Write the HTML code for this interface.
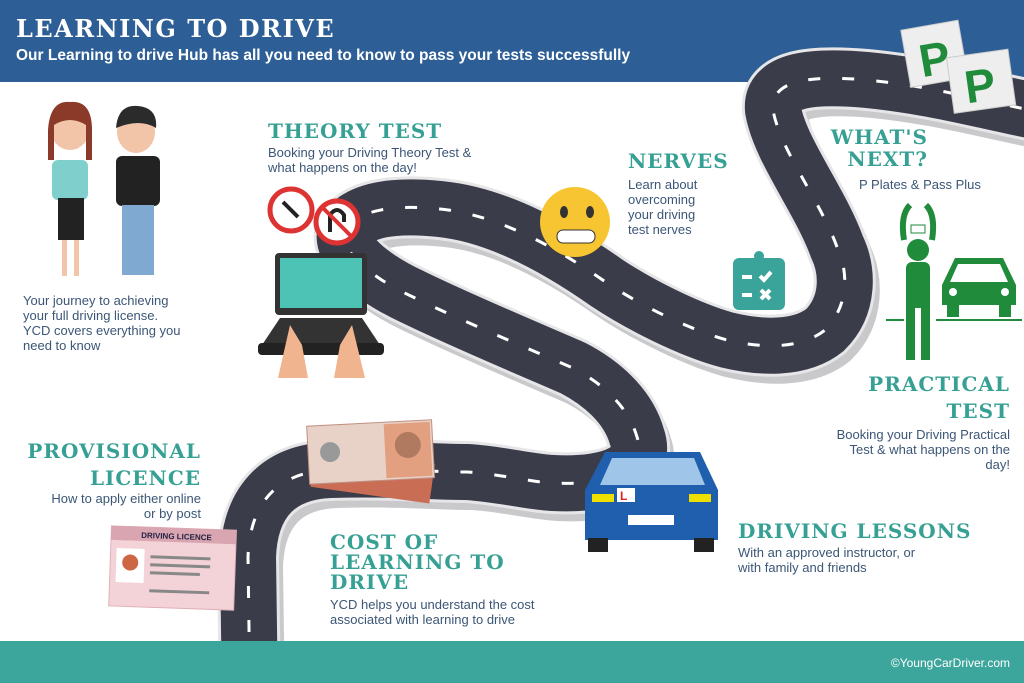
<!DOCTYPE html>
<html><head><meta charset="utf-8">
<style>
body{margin:0;width:1024px;height:683px;overflow:hidden;background:#fff;font-family:"Liberation Sans",sans-serif;position:relative}
.hdr{position:absolute;left:0;top:0;width:1024px;height:82px;background:#2d5f96}
.ftr{position:absolute;left:0;top:641px;width:1024px;height:42px;background:#3ca59c}
.t{position:absolute;color:#3b5676;font-size:13px;line-height:15px}
.h{position:absolute;color:#35a093;font-weight:bold;font-size:20px;letter-spacing:1px;line-height:22px;font-family:"DejaVu Serif","Liberation Serif",serif}
svg{position:absolute;left:0;top:0}
</style></head><body>
<div class="hdr"></div>
<svg width="1024" height="683">
<defs><path id="r" d="M250 700 L248 557 C250 500 280 472 330 470 C390 468 430 472 467 472 C500 474 530 482 553 483 C615 486 648 468 637 437 C628 405 600 382 573 368 C520 345 460 320 413 297 C365 275 325 240 355 220 C375 206 410 206 440 209 C500 215 560 250 607 283 C640 305 690 330 727 340 C760 348 800 350 825 330 C850 305 848 270 837 247 C820 200 780 150 773 110 C770 80 810 75 867 80 C930 86 980 100 1030 110"/></defs>
<g fill="none">
<use href="#r" stroke="#c9c9cc" stroke-width="58" transform="translate(6,9)"/>
<use href="#r" stroke="#e6e6e8" stroke-width="62"/>
<use href="#r" stroke="#3a3c4a" stroke-width="56"/>
<use href="#r" stroke="#fff" stroke-width="3" stroke-dasharray="12 22"/>
</g>
<ellipse cx="70" cy="128" rx="20" ry="22" fill="#f2c5a8"/><path d="M48 130 Q50 100 70 102 Q92 100 92 130 L92 160 L86 160 L86 125 Q70 115 54 125 L54 160 L48 160Z" fill="#8b3a2a"/>
<rect x="52" y="160" width="36" height="40" rx="6" fill="#7fd0cc"/><rect x="58" y="198" width="26" height="42" fill="#222"/><rect x="62" y="240" width="5" height="36" fill="#f2c5a8"/><rect x="74" y="240" width="5" height="36" fill="#f2c5a8"/>
<ellipse cx="136" cy="132" rx="19" ry="21" fill="#f2c5a8"/><path d="M116 128 Q118 104 138 106 Q158 108 156 128 Q140 118 116 128Z" fill="#2b2b2b"/>
<rect x="116" y="156" width="44" height="50" rx="6" fill="#222"/><rect x="122" y="205" width="32" height="70" fill="#7fa9d0"/>
<circle cx="291" cy="210" r="21" fill="#fff" stroke="#d33" stroke-width="5"/><path d="M283 202 L298 217" stroke="#222" stroke-width="4"/>
<circle cx="337" cy="222" r="21" fill="#fff" stroke="#d33" stroke-width="5"/><path d="M330 232 V215 Q337 205 344 215 V222" stroke="#222" stroke-width="4" fill="none"/><path d="M323 208 L351 236" stroke="#d33" stroke-width="4"/>
<rect x="275" y="253" width="92" height="62" rx="4" fill="#333"/><rect x="280" y="258" width="82" height="50" fill="#4dc3b5"/>
<path d="M262 345 L280 318 L362 318 L380 345Z" fill="#333"/><rect x="258" y="343" width="126" height="12" rx="4" fill="#222"/>
<path d="M278 378 L290 325 L302 345 L308 378Z M365 378 L352 325 L340 345 L334 378Z" fill="#f0b58e"/>
<circle cx="575" cy="222" r="35" fill="#f7c531"/><rect x="557" y="230" width="38" height="13" rx="6" fill="#fff" stroke="#333"/><ellipse cx="564" cy="212" rx="4" ry="6" fill="#333"/><ellipse cx="590" cy="212" rx="4" ry="6" fill="#333"/>
<rect x="733" y="258" width="52" height="52" rx="6" fill="#3aa39a"/><circle cx="759" cy="256" r="5" fill="#3aa39a"/><path d="M742 277 h10 M742 295 h10 M760 276 l4 4 l7-8 M761 290 l9 9 M770 290 l-9 9" stroke="#fff" stroke-width="4" fill="none"/>
<g transform="rotate(-10 950 50)"><rect x="905" y="22" width="58" height="58" fill="#eee" stroke="#ccc"/><text x="918" y="72" font-size="46" font-weight="bold" fill="#1f8b3b" font-family="Liberation Sans">P</text></g>
<g transform="rotate(-8 990 80)"><rect x="950" y="52" width="62" height="56" fill="#eee" stroke="#ccc"/><text x="964" y="100" font-size="46" font-weight="bold" fill="#1f8b3b" font-family="Liberation Sans">P</text></g>
<path d="M904 240 Q900 215 910 205 M932 240 Q936 215 926 205" stroke="#1f8b3b" stroke-width="6" fill="none"/><rect x="911" y="225" width="14" height="8" fill="#fff" stroke="#1f8b3b"/>
<circle cx="918" cy="250" r="11" fill="#1f8b3b"/><rect x="906" y="262" width="24" height="46" rx="6" fill="#1f8b3b"/><rect x="906" y="300" width="9" height="60" fill="#1f8b3b"/><rect x="921" y="300" width="9" height="60" fill="#1f8b3b"/>
<rect x="886" y="319" width="18" height="2" fill="#1f8b3b"/><rect x="936" y="319" width="86" height="2" fill="#1f8b3b"/>
<path d="M942 305 L942 285 L955 258 L1003 258 L1016 285 L1016 305Z" fill="#1f8b3b"/><path d="M958 264 L1000 264 L1008 282 L950 282Z" fill="#fff"/><circle cx="953" cy="292" r="4" fill="#fff"/><circle cx="1005" cy="292" r="4" fill="#fff"/><rect x="947" y="303" width="12" height="14" fill="#1f8b3b"/><rect x="999" y="303" width="12" height="14" fill="#1f8b3b"/>
<g transform="rotate(8 370 480)"><rect x="312" y="455" width="120" height="40" fill="#c96d55"/></g>
<g transform="rotate(-3 370 450)"><rect x="308" y="423" width="125" height="58" fill="#e8d2c8" stroke="#c09080"/><rect x="385" y="425" width="46" height="54" fill="#e2a080"/><circle cx="408" cy="447" r="13" fill="#b07a60"/><circle cx="330" cy="450" r="10" fill="#999"/></g>
<path d="M585 540 L585 490 L605 452 L700 452 L718 490 L718 540Z" fill="#1f5fae"/><path d="M612 458 L694 458 L705 485 L600 485Z" fill="#9fc5e8"/><rect x="588" y="538" width="20" height="14" fill="#222"/><rect x="694" y="538" width="20" height="14" fill="#222"/>
<rect x="592" y="494" width="22" height="8" fill="#f0e000"/><rect x="689" y="494" width="22" height="8" fill="#f0e000"/><rect x="617" y="488" width="18" height="14" fill="#fff"/><text x="620" y="500" font-size="12" fill="#d22" font-weight="bold" font-family="Liberation Sans">L</text><rect x="628" y="515" width="46" height="10" fill="#fff"/>
<g transform="rotate(2 172 570)"><rect x="110" y="528" width="125" height="80" fill="#f3d3d8" stroke="#e0b0b8"/><rect x="110" y="528" width="125" height="14" fill="#d9a5b0"/><text x="140" y="539" font-size="8" font-weight="bold" fill="#224" font-family="Liberation Sans">DRIVING LICENCE</text><rect x="116" y="550" width="28" height="34" fill="#fff"/><circle cx="130" cy="564" r="8" fill="#c64"/><rect x="150" y="556" width="60" height="3" fill="#888"/><rect x="150" y="564" width="60" height="3" fill="#888"/><rect x="150" y="572" width="50" height="3" fill="#888"/><rect x="150" y="590" width="60" height="3" fill="#888"/></g>
</svg>
<div class="ftr"></div>
<div style="position:absolute;left:16px;top:14px;color:#fff;font-weight:bold;font-size:24px;letter-spacing:1.5px;font-family:'DejaVu Serif',serif">LEARNING TO DRIVE</div>
<div style="position:absolute;left:16px;top:47px;color:#fff;font-weight:bold;font-size:15.5px">Our Learning to drive Hub has all you need to know to pass your tests successfully</div>
<div style="position:absolute;right:14px;top:656px;color:#fff;font-size:12px">©YoungCarDriver.com</div>
<div class="h" style="left:268px;top:120px">THEORY TEST</div>
<div class="t" style="left:268px;top:145px">Booking your Driving Theory Test &amp;<br>what happens on the day!</div>
<div class="h" style="left:628px;top:150px">NERVES</div>
<div class="t" style="left:628px;top:177px">Learn about<br>overcoming<br>your driving<br>test nerves</div>
<div class="h" style="left:828px;top:126px;width:100px;text-align:right">WHAT'S<br>NEXT?</div>
<div class="t" style="left:859px;top:177px">P Plates &amp; Pass Plus</div>
<div class="t" style="left:23px;top:293px">Your journey to achieving<br>your full driving license.<br>YCD covers everything you<br>need to know</div>
<div class="h" style="left:838px;top:371px;text-align:right;width:172px;line-height:27px">PRACTICAL<br>TEST</div>
<div class="t" style="left:780px;top:427px;width:230px;text-align:right">Booking your Driving Practical<br>Test &amp; what happens on the<br>day!</div>
<div class="h" style="left:0px;top:438px;width:201px;text-align:right;line-height:27px">PROVISIONAL<br>LICENCE</div>
<div class="t" style="left:20px;top:491px;width:181px;text-align:right">How to apply either online<br>or by post</div>
<div class="h" style="left:330px;top:532px;line-height:20px">COST OF<br>LEARNING TO<br>DRIVE</div>
<div class="t" style="left:330px;top:597px">YCD helps you understand the cost<br>associated with learning to drive</div>
<div class="h" style="left:738px;top:520px">DRIVING LESSONS</div>
<div class="t" style="left:738px;top:545px">With an approved instructor, or<br>with family and friends</div>
</body></html>
